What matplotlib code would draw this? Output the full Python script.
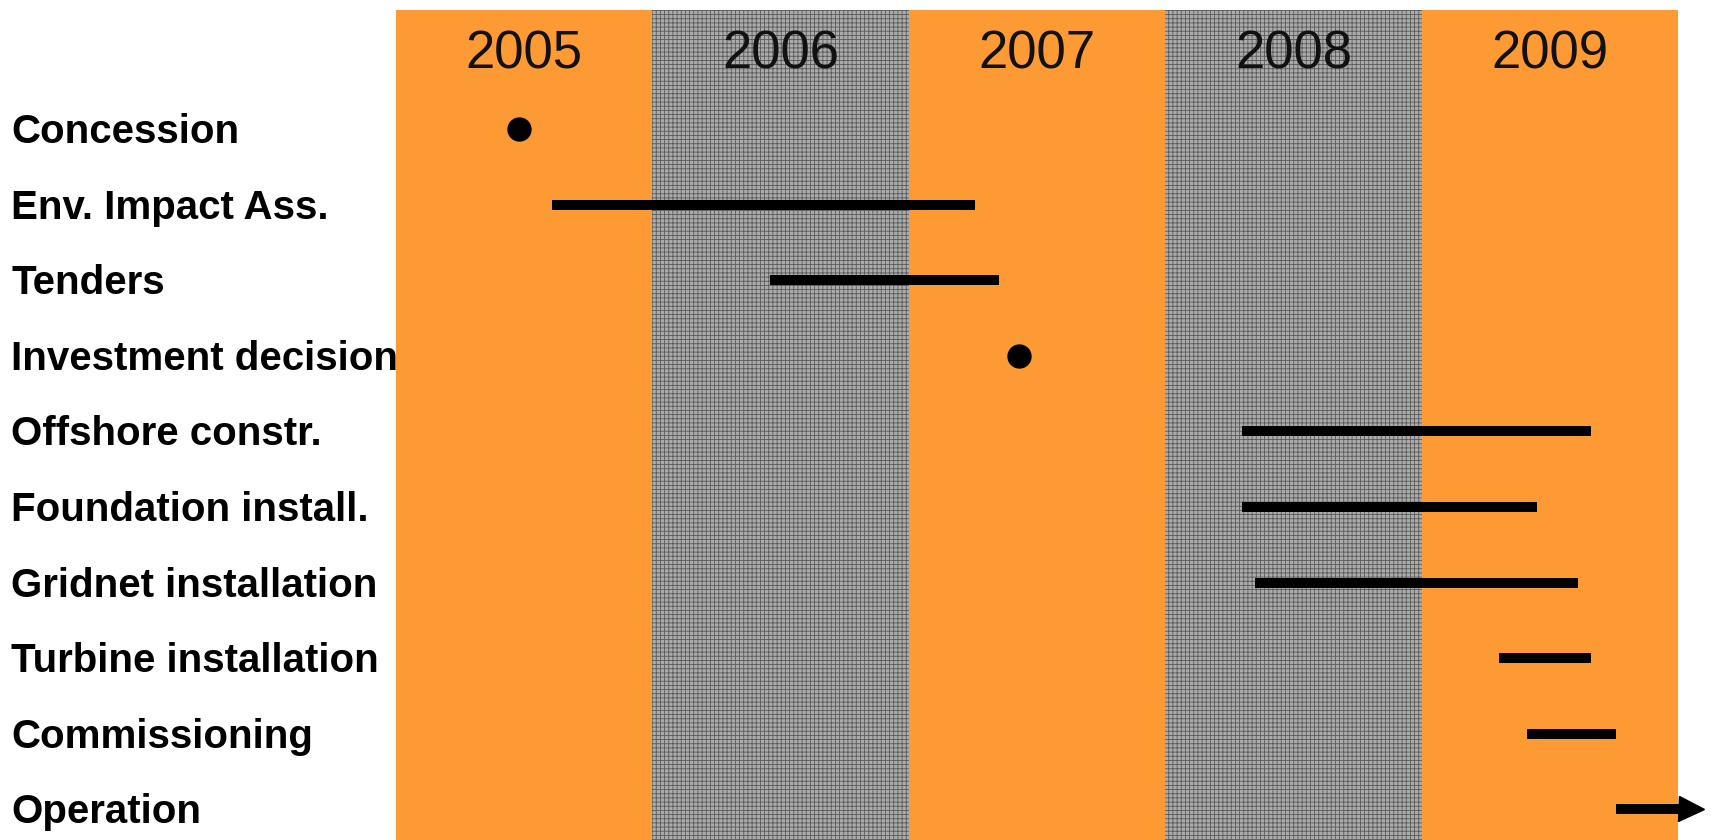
import matplotlib.pyplot as plt

years = [2005, 2006, 2007, 2008, 2009]
band_colors = ["#fd9a33", "#ababab", "#fd9a33", "#ababab", "#fd9a33"]

tasks = ["Concession", "Env. Impact Ass.", "Tenders", "Investment decision",
         "Offshore constr.", "Foundation install.", "Gridnet installation",
         "Turbine installation", "Commissioning", "Operation"]

# milestones (single dates, in fractional years)
milestones = {"Concession": 2005.48, "Investment decision": 2007.43}

# bars: start, end
bar_start = {"Env. Impact Ass.": 2005.61, "Tenders": 2006.46,
             "Offshore constr.": 2008.30, "Foundation install.": 2008.30,
             "Gridnet installation": 2008.35, "Turbine installation": 2009.30,
             "Commissioning": 2009.41, "Operation": 2009.76}
bar_end = {"Env. Impact Ass.": 2007.26, "Tenders": 2007.35,
           "Offshore constr.": 2009.66, "Foundation install.": 2009.45,
           "Gridnet installation": 2009.61, "Turbine installation": 2009.66,
           "Commissioning": 2009.76, "Operation": 2010.05}
ongoing = ["Operation"]

plt.rcParams['font.family'] = ['Liberation Sans', 'DejaVu Sans']
plt.rcParams['hatch.linewidth'] = 0.6

fig = plt.figure(figsize=(17.11, 8.40), dpi=100)
ax = fig.add_axes([396 / 1711, 0, 1282 / 1711, 830 / 840])

# year bands
for yr, col in zip(years, band_colors):
    hatched = col != "#fd9a33"
    ax.axvspan(yr, yr + 1, color=col, lw=0, zorder=0)
    if hatched:
        ax.axvspan(yr, yr + 1, facecolor="none", edgecolor="#5a5a5a",
                   hatch="++++", lw=0, zorder=0.5)
    ax.text(yr + 0.5, -0.99, str(yr), ha="center", va="center",
            fontsize=38, color="#111111")

for i, name in enumerate(tasks):
    if name in milestones:
        ax.plot(milestones[name], i, "o", color="black", ms=16.5, zorder=3)
    if name in bar_start:
        if name in ongoing:
            ax.plot([bar_start[name], bar_end[name]], [i, i], color="black",
                    lw=7.2, solid_capstyle="butt", marker=">", ms=18,
                    markevery=[1], zorder=3, clip_on=False)
        else:
            ax.plot([bar_start[name], bar_end[name]], [i, i], color="black",
                    lw=7.2, solid_capstyle="butt", zorder=3)
    ax.text(-0.3, i + 0.04, name, transform=ax.get_yaxis_transform(),
            ha="left", va="center", fontsize=29, fontweight="bold",
            color="black")

ax.set_xlim(2005, 2010)
ax.set_ylim(9.405, -1.574)
ax.axis("off")

fig.savefig("out.png", dpi=100)
